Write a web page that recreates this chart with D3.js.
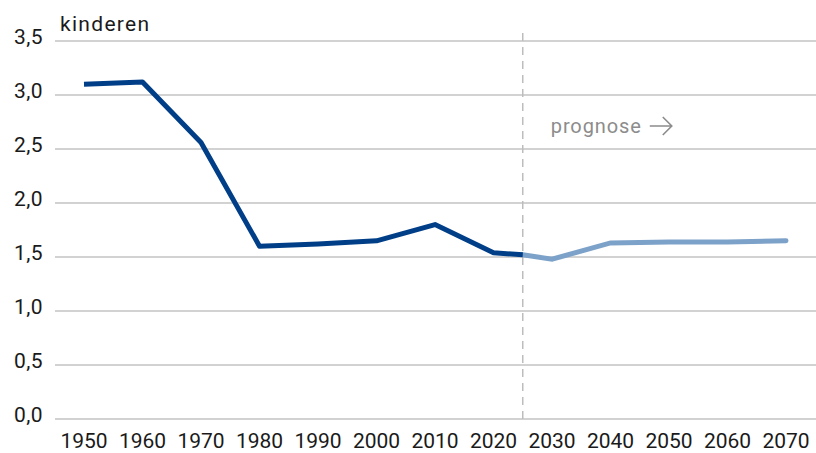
<!DOCTYPE html>
<html>
<head>
<meta charset="utf-8">
<script src="https://cdn.jsdelivr.net/npm/d3@7"></script>
<style>
  body { margin: 0; background: #fff; }
  text { font-family: Roboto, sans-serif; }
</style>
</head>
<body>
<script>
const yearTicks = [1950, 1960, 1970, 1980, 1990, 2000, 2010, 2020, 2030, 2040, 2050, 2060, 2070];
const yTicks = [0, 0.5, 1, 1.5, 2, 2.5, 3, 3.5];

const historyYears = [1950, 1960, 1970, 1980, 1990, 2000, 2010, 2020, 2025];
const historyValues = [3.10, 3.12, 2.56, 1.60, 1.62, 1.65, 1.80, 1.54, 1.52];

const forecastYears = [2025, 2030, 2040, 2050, 2060, 2070];
const forecastValues = [1.52, 1.48, 1.63, 1.64, 1.64, 1.65];

const splitYear = 2025;

const w = 816;
const h = 453;

const svg = d3.select("body").append("svg").attr("width", w).attr("height", h);

const x = d3.scaleLinear().domain([1950, 2070]).range([84, 786]);
const y = d3.scaleLinear().domain([0, 3.5]).range([419, 41]);

// grid lines
svg.append("g")
  .selectAll("line")
  .data(yTicks)
  .enter()
  .append("line")
  .attr("x1", 55)
  .attr("x2", w)
  .attr("y1", d => y(d))
  .attr("y2", d => y(d))
  .attr("stroke", "#c3c3c3")
  .attr("stroke-width", 1.5);

// y labels
svg.append("g")
  .selectAll("text")
  .data(yTicks)
  .enter()
  .append("text")
  .attr("x", 43)
  .attr("y", d => y(d) + 3)
  .attr("text-anchor", "end")
  .attr("font-size", 21)
  .attr("letter-spacing", 0.4)
  .attr("fill", "#1a1a1a")
  .text(d => d3.format(".1f")(d).replace(".", ","));

// x labels
svg.append("g")
  .selectAll("text")
  .data(yearTicks)
  .enter()
  .append("text")
  .attr("x", d => x(d))
  .attr("y", 448)
  .attr("text-anchor", "middle")
  .attr("font-size", 21)
  .attr("fill", "#1a1a1a")
  .text(d => d);

svg.append("text")
  .attr("x", 60)
  .attr("y", 31)
  .attr("font-size", 21)
  .attr("letter-spacing", 1.3)
  .attr("fill", "#1a1a1a")
  .text("kinderen");

// forecast divider
svg.append("line")
  .attr("x1", x(splitYear))
  .attr("x2", x(splitYear))
  .attr("y1", 33)
  .attr("y2", 424)
  .attr("stroke", "#bdbdbd")
  .attr("stroke-width", 1.5)
  .attr("stroke-dasharray", "8,6");

const prog = svg.append("text")
  .attr("x", x(splitYear) + 28)
  .attr("y", 133)
  .attr("font-size", 20)
  .attr("letter-spacing", 0.9)
  .attr("fill", "#8c8c8c")
  .text("prognose");

// thin arrow after the label
const ax = x(splitYear) + 28 + prog.node().getComputedTextLength() + 8;
const ay = 126;
svg.append("path")
  .attr("d", `M${ax},${ay} H${ax + 22} M${ax + 13},${ay - 9} L${ax + 22},${ay} L${ax + 13},${ay + 9}`)
  .attr("fill", "none")
  .attr("stroke", "#8c8c8c")
  .attr("stroke-width", 1.6);

const line = d3.line()
  .x(d => x(d[0]))
  .y(d => y(d[1]));

svg.append("path")
  .datum(forecastYears.map((yr, i) => [yr, forecastValues[i]]))
  .attr("d", line)
  .attr("fill", "none")
  .attr("stroke", "#7da2c9")
  .attr("stroke-width", 5)
  .attr("stroke-linecap", "round");

svg.append("path")
  .datum(historyYears.map((yr, i) => [yr, historyValues[i]]))
  .attr("d", line)
  .attr("fill", "none")
  .attr("stroke", "#003f87")
  .attr("stroke-width", 5)
  .attr("stroke-linejoin", "round");
</script>
</body>
</html>
